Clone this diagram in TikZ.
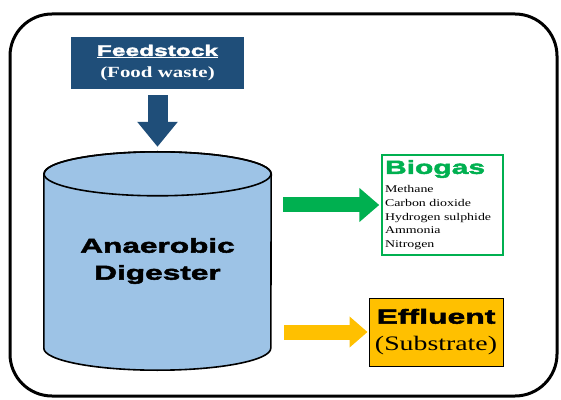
\documentclass[tikz,border=0pt]{standalone}
\usepackage{fontspec}
\setmainfont{Liberation Serif}[FakeStretch=1.35]
\newfontfamily\heavysans{Liberation Sans Bold}[FakeStretch=1.58,FakeBold=2.5]
\usepackage{tikz}
\usetikzlibrary{arrows.meta,calc,positioning,backgrounds}
\definecolor{feedblue}{HTML}{1F4E79}
\definecolor{tankblue}{HTML}{9DC3E6}
\definecolor{gasgreen}{HTML}{00B050}
\definecolor{effyellow}{HTML}{FFC000}
\tikzstyle{feedbox} = [fill=feedblue, text=white, minimum width=173pt, minimum height=52pt, inner sep=0pt, align=center]
\tikzstyle{gasbox} = [draw=gasgreen, line width=1.5pt, minimum width=121pt, minimum height=100pt, inner xsep=2.5pt, inner ysep=2pt, text width=115pt, align=left]
\tikzstyle{effbox} = [draw=black, fill=effyellow, line width=1pt, minimum width=134pt, minimum height=68pt, inner sep=0pt, align=center]
\tikzset{
  blockarrow/.style n args={4}{draw=#1, line width=#2,
    -{Triangle[length=#3, width=#4]}}
}

\begin{document}
\begin{tikzpicture}[x=1pt, y=1pt]
  \useasboundingbox (0,0) rectangle (561,399);
  % outer frame
  \draw[line width=3pt, rounded corners=42pt] (10,3) rectangle (557,385);

  \node (feed) [feedbox, font=\fontsize{15.5}{22}\selectfont] at (157.5,336)
    {{\heavysans\underline{Feedstock}}\\
     {\bfseries (Food waste)}};
  \node (dig) [minimum width=227pt, minimum height=218pt, align=center,
    font=\heavysans\fontsize{20}{27}\selectfont] at (157.5,138)
    {Anaerobic\\Digester};
  \node (bio) [gasbox, font=\fontsize{10.3}{13.7}\selectfont] at (442.5,194)
    {{\heavysans\color{gasgreen}\fontsize{19}{22}\selectfont Biogas}\\[5.3pt]
     Methane\\ Carbon dioxide\\ Hydrogen sulphide\\ Ammonia\\ Nitrogen};
  \node (eff) [effbox, font=\fontsize{20.6}{27}\selectfont] at (436,67)
    {{\heavysans\fontsize{20.2}{27}\selectfont Effluent}\\(Substrate)};

  % digester tank
  \begin{scope}[on background layer]
    \draw[line width=1.6pt, fill=tankblue]
      ($(dig.north west)+(0,-22)$) -- ($(dig.south west)+(0,22)$)
      arc[start angle=180, end angle=360, x radius=113.5, y radius=22]
      -- ($(dig.north east)+(0,-22)$)
      arc[start angle=0, end angle=180, x radius=113.5, y radius=22] -- cycle;
    \draw[line width=1.6pt] ($(dig.north)+(0,-22)$)
      ellipse[x radius=113.5, y radius=22];
  \end{scope}

  \draw[blockarrow={feedblue}{20pt}{25pt}{39pt}, shorten <=6pt, shorten >=5pt]
    (feed.south) -- (feed.south |- dig.north);
  \draw[blockarrow={gasgreen}{15pt}{20pt}{33pt}, shorten <=12pt, shorten >=2pt]
    (dig.east |- bio.west) -- (bio.west);
  \draw[blockarrow={effyellow}{15pt}{18pt}{30pt}, shorten <=13pt, shorten >=1pt]
    (dig.east |- eff.west) -- (eff.west);
\end{tikzpicture}
\end{document}
